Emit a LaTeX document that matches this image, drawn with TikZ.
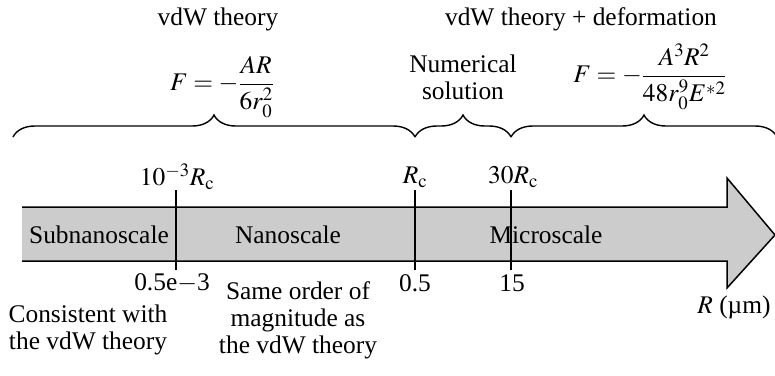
\documentclass[tikz,border=0pt]{standalone}
\usepackage{amsmath}
\usepackage{mathptmx}
\usepackage{fontspec}
\setmainfont{Liberation Serif}
\usetikzlibrary{positioning, decorations.pathreplacing}

\begin{document}
\begin{tikzpicture}[x=1bp, y=-1bp,
    every node/.style={font=\fontsize{25.5}{27}\selectfont, inner sep=0pt},
    lbl/.style={align=center},
    tickline/.style={line width=1.2pt},
    rangebrace/.style={decorate, decoration={brace, amplitude=22bp}, line width=1.4pt}]
    \useasboundingbox (0,0) rectangle (775,375);

    % Scale arrow
    \draw[fill=black!20, line width=1.5pt, line join=miter]
        (22,207) -- (727,207) -- (727,178) -- (775,235) -- (727,288) -- (727,261) -- (22,261);
    \node (sub) at (99,235) {Subnanoscale};
    \node (nano) at (288,235) {Nanoscale};
    \node (micro) at (546,235) {Microscale};

    % Ticks
    \coordinate (t1top) at (176,190); \coordinate (t1bot) at (176,270);
    \coordinate (t2top) at (415,190); \coordinate (t2bot) at (415,270);
    \coordinate (t3top) at (511,190); \coordinate (t3bot) at (511,270);
    \draw[tickline] (t1top) -- (t1bot);
    \draw[tickline] (t2top) -- (t2bot);
    \draw[tickline] (t3top) -- (t3bot);
    \node (rc1) at (177,177) {$10^{-3}R_{\mathrm{c}}$};
    \node (rc2) at (415,177) {$R_{\mathrm{c}}$};
    \node (rc3) at (513,177) {$30R_{\mathrm{c}}$};
    \node (v1) at (172,283) {0.5e$-$3};
    \node (v2) at (415,283) {0.5};
    \node (v3) at (512,283) {15};
    \node (unit) at (734,307) {$R$ (µm)};

    % Notes below
    \node[lbl] (cons) at (88,330) {Consistent with\\the vdW theory};
    \node[lbl] (same) at (298,320) {Same order of\\magnitude as\\the vdW theory};

    % Braces
    \coordinate (b0) at (13,137);
    \coordinate (b1) at (415,137);
    \coordinate (b2) at (511,137);
    \coordinate (b3) at (777,137);
    \draw[rangebrace] (b0) -- (b1);
    \draw[rangebrace] (b1) -- (b2);
    \draw[rangebrace] (b2) -- (b3);

    % Theories
    \node (vdw) at (218,19) {vdW theory};
    \node (vdwdef) at (581,19) {vdW theory + deformation};
    \node (f1) at (222,87) {$F=-\dfrac{AR}{6r_0^2}$};
    \node[lbl] (num) at (463,77) {Numerical\\solution};
    \node (f2) at (650,77) {$F=-\dfrac{A^3R^2}{48r_0^9E^{*2}}$};
\end{tikzpicture}
\end{document}
